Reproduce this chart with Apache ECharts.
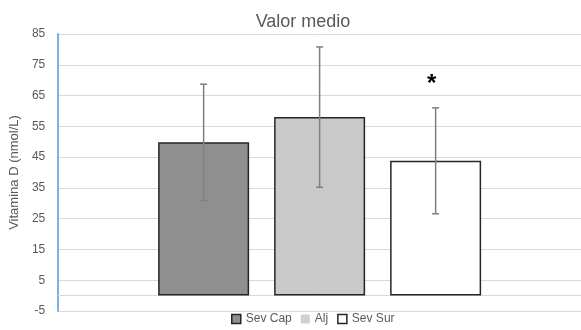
<!DOCTYPE html>
<html><head><meta charset="utf-8">
<script src="https://cdn.jsdelivr.net/npm/echarts@6/dist/echarts.min.js"></script>
<style>html,body{margin:0;padding:0;background:#fff}#c{width:581px;height:330px}</style>
</head><body><div id="c"></div>
<script>
var categories = ['Valor medio'];
var seriesNames = ['Sev Cap', 'Alj', 'Sev Sur'];
var means = [49.8, 58.0, 43.8];
var sds = [18.9, 22.8, 17.2];
var yTicks = {min: -5, max: 85, interval: 10};
var asteriskSeries = 2;
var asteriskValue = 70;

var colors = ['#8F8F8F', '#C9C9C9', '#FFFFFF'];
var BAR_W = 91, GAP = 25;
var font = 'Liberation Sans, Arial, sans-serif';

var chart = echarts.init(document.getElementById('c'));
var series = seriesNames.map(function (n, i) {
  return {
    name: n, type: 'bar', barWidth: BAR_W, barGap: (GAP / BAR_W * 100) + '%',
    data: [means[i]],
    itemStyle: {color: colors[i], borderColor: '#262626', borderWidth: 1.5},
    emphasis: {disabled: true}, z: 2
  };
});
function offsetFor(i) { return (i - (seriesNames.length - 1) / 2) * (BAR_W + GAP); }
series.push({
  type: 'custom', silent: true, z: 5,
  data: means.map(function (m, i) { return [0, m - sds[i], m + sds[i], i]; }),
  renderItem: function (params, api) {
    var i = api.value(3);
    var lo = api.coord([api.value(0), api.value(1)]);
    var hi = api.coord([api.value(0), api.value(2)]);
    var x = lo[0] + offsetFor(i);
    var style = {stroke: '#7F7F7F', lineWidth: 1.5};
    return {type: 'group', children: [
      {type: 'line', shape: {x1: x, y1: lo[1], x2: x, y2: hi[1]}, style: style},
      {type: 'line', shape: {x1: x - 3.5, y1: lo[1], x2: x + 3.5, y2: lo[1]}, style: style},
      {type: 'line', shape: {x1: x - 3.5, y1: hi[1], x2: x + 3.5, y2: hi[1]}, style: style}
    ]};
  }
});
series.push({
  type: 'custom', silent: true, z: 6,
  data: [[0, asteriskValue, asteriskSeries]],
  renderItem: function (params, api) {
    var p = api.coord([api.value(0), api.value(1)]);
    return {type: 'text', x: p[0] + offsetFor(api.value(2)) - 4, y: p[1] + 4,
      style: {text: '*', font: 'bold 24px ' + font, fill: '#000', textAlign: 'center', textVerticalAlign: 'middle'}};
  }
});

chart.setOption({
  animation: false,
  backgroundColor: '#fff',
  title: {text: 'Valor medio', left: 298, top: 8, textAlign: 'center',
    textStyle: {fontFamily: font, fontSize: 18, fontWeight: 'normal', color: '#595959'}},
  legend: {
    bottom: 0, left: 226, itemWidth: 9, itemHeight: 9, itemGap: 9, icon: 'rect',
    textStyle: {fontFamily: font, fontSize: 12, color: '#595959'},
    data: [
      {name: 'Sev Cap', itemStyle: {color: '#8F8F8F', borderColor: '#262626', borderWidth: 1.5}},
      {name: 'Alj', itemStyle: {color: '#D0D0D0', borderWidth: 0}},
      {name: 'Sev Sur', itemStyle: {color: '#FFFFFF', borderColor: '#262626', borderWidth: 1.5}}
    ]
  },
  grid: {left: 56, right: 0, top: 34, bottom: 19},
  xAxis: {type: 'category', data: categories,
    axisLine: {show: true, lineStyle: {color: '#D9D9D9', width: 1}},
    axisTick: {show: false}, axisLabel: {show: false}},
  yAxis: {type: 'value', min: yTicks.min, max: yTicks.max, interval: yTicks.interval,
    name: 'Vitamina D (nmol/L)', nameLocation: 'middle', nameGap: 30,
    nameTextStyle: {fontFamily: font, fontSize: 13, color: '#595959'},
    axisLine: {show: true, lineStyle: {color: '#7EB2E6', width: 2}},
    axisTick: {show: false},
    axisLabel: {fontFamily: font, fontSize: 12, color: '#595959', margin: 13},
    splitLine: {lineStyle: {color: '#D9D9D9', width: 1}}},
  series: series
});
</script></body></html>
